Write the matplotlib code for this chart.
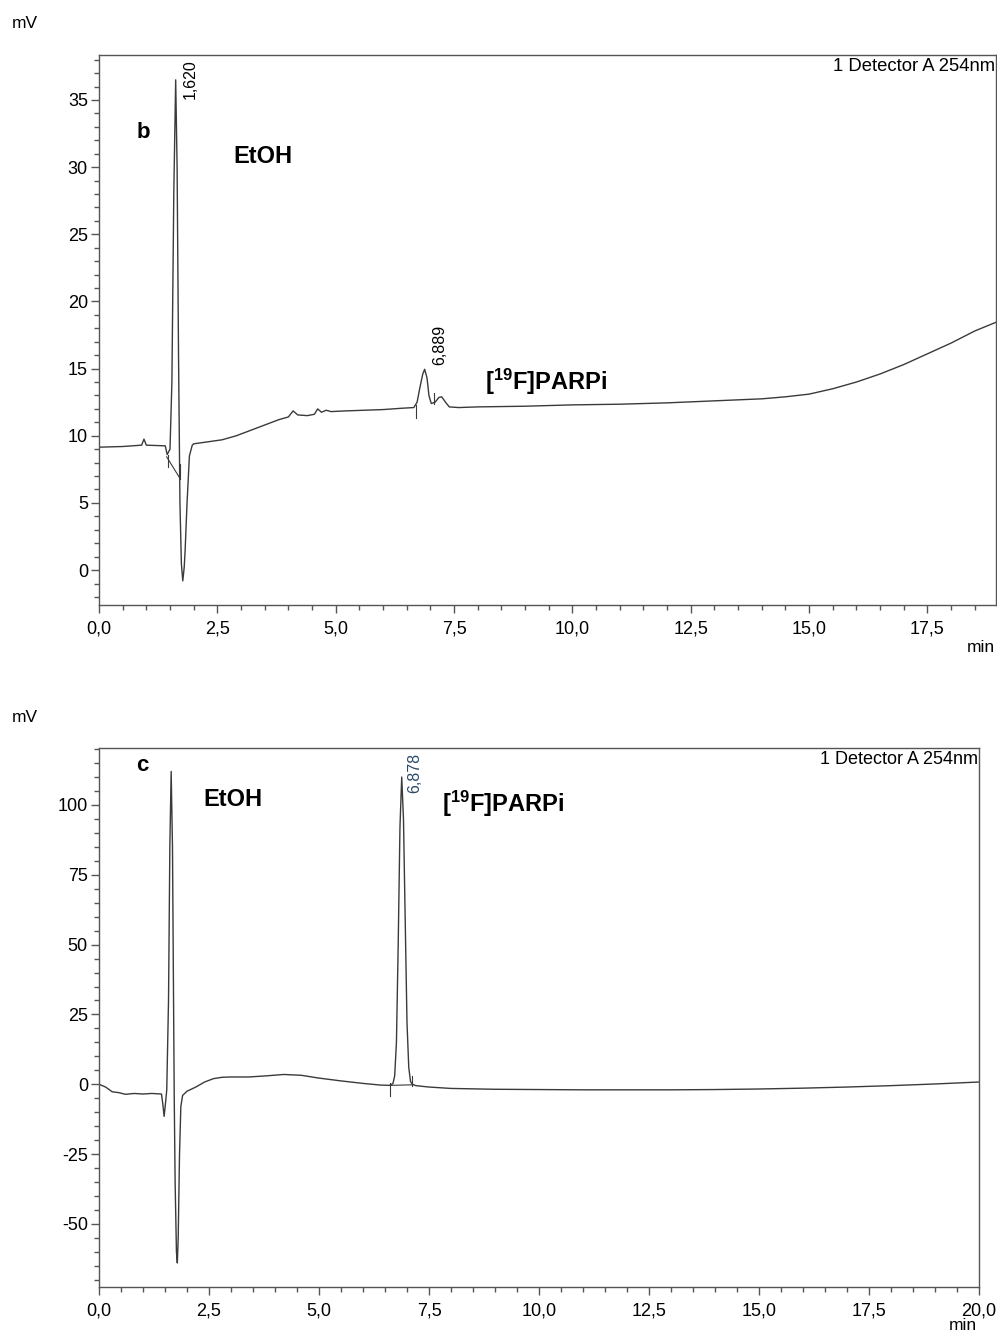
"""HPLC UV traces (254 nm) for the EtOH blank (b) and [19F]PARPi reference (c)."""

import matplotlib
matplotlib.use("Agg")
import matplotlib.pyplot as plt
from matplotlib.ticker import MultipleLocator, FuncFormatter

plt.rcParams["font.family"] = ["Liberation Sans", "DejaVu Sans"]
plt.rcParams["axes.unicode_minus"] = False
plt.rcParams["mathtext.fontset"] = "custom"
plt.rcParams["mathtext.bf"] = "Liberation Sans:bold"
plt.rcParams["mathtext.rm"] = "Liberation Sans"

# --- panel b: EtOH trace (time in min, signal in mV) ---
time_b = [0.0, 0.5, 0.9, 0.95, 1.0, 1.4, 1.44, 1.5, 1.54, 1.58, 1.62, 1.65,
          1.68, 1.71, 1.74, 1.77, 1.8, 1.82, 1.86, 1.91, 1.97, 2.0, 2.3, 2.6,
          2.9, 3.2, 3.5, 3.8, 4.0, 4.1, 4.2, 4.4, 4.55, 4.62, 4.7, 4.8, 4.9,
          5.2, 5.6, 6.0, 6.4, 6.65, 6.72, 6.78, 6.84, 6.88, 6.93, 6.97, 7.02,
          7.1, 7.18, 7.24, 7.32, 7.4, 7.6, 8.0, 9.0, 10.0, 11.0, 12.0, 13.0,
          14.0, 14.5, 15.0, 15.5, 16.0, 16.5, 17.0, 17.5, 18.0, 18.5, 18.95]
signal_b = [9.15, 9.2, 9.3, 9.75, 9.3, 9.25, 8.6, 9.0, 14.0, 28.0, 36.5, 30.0,
            16.0, 5.0, 0.5, -0.8, 0.2, 1.5, 5.0, 8.5, 9.3, 9.4, 9.55, 9.7,
            10.0, 10.4, 10.8, 11.2, 11.4, 11.85, 11.55, 11.5, 11.6, 12.0, 11.75,
            11.9, 11.8, 11.85, 11.9, 11.95, 12.05, 12.1, 12.5, 13.6, 14.6, 14.95,
            14.3, 13.0, 12.4, 12.5, 12.85, 12.9, 12.5, 12.15, 12.1, 12.15, 12.2,
            12.3, 12.35, 12.45, 12.6, 12.75, 12.9, 13.1, 13.5, 14.0, 14.6, 15.3,
            16.1, 16.9, 17.8, 18.45]

# integration marks of panel b: peak start / end (time, upper, lower mV)
marks_b = [(1.45, 8.6, 7.7), (1.71, 7.9, 6.8), (6.69, 12.3, 11.3), (7.07, 13.2, 12.4)]
baseline_b = ([1.43, 1.71], [8.43, 6.83])
# retention-time labels: (label time, label base mV, text, colour)
peaks_b = [(1.92, 35.1, "1,620", "black"), (7.19, 15.3, "6,889", "black")]

# --- panel c: [19F]PARPi trace ---
time_c = [0.0, 0.15, 0.3, 0.45, 0.6, 0.8, 1.0, 1.2, 1.42, 1.45, 1.48, 1.51,
          1.54, 1.58, 1.61, 1.64, 1.67, 1.69, 1.71, 1.73, 1.76, 1.78, 1.8,
          1.83, 1.86, 1.9, 2.0, 2.2, 2.4, 2.6, 2.8, 3.0, 3.4, 3.8, 4.2, 4.6,
          5.0, 5.5, 6.0, 6.4, 6.6, 6.68, 6.72, 6.76, 6.8, 6.84, 6.88, 6.92,
          6.96, 7.0, 7.04, 7.08, 7.12, 7.2, 7.5, 8.0, 9.0, 10.0, 11.0, 12.0,
          13.0, 14.0, 15.0, 16.0, 17.0, 18.0, 19.0, 20.0]
signal_c = [0.0, -1.0, -2.7, -3.0, -3.6, -3.3, -3.5, -3.3, -3.5, -7.0, -11.5,
            -7.0, -2.0, 30.0, 85.0, 112.0, 85.0, 40.0, -5.0, -35.0, -60.0, -64.0,
            -55.0, -25.0, -8.0, -4.0, -2.5, -1.0, 0.8, 2.0, 2.5, 2.6, 2.6, 3.0,
            3.5, 3.2, 2.2, 1.2, 0.3, -0.3, -0.4, 0.2, 3.0, 15.0, 50.0, 92.0,
            110.0, 95.0, 58.0, 22.0, 6.0, 1.0, 0.0, -0.5, -1.0, -1.5, -1.8,
            -1.9, -2.0, -2.0, -2.0, -1.9, -1.7, -1.4, -1.0, -0.5, 0.1, 0.8]

marks_c = [(6.62, 0.4, -4.3), (7.12, 2.9, -0.7)]
baseline_c = ([6.62, 7.12], [-0.4, -0.2])
peaks_c = [(7.18, 104.3, "6,878", "#2b4a6b")]

LINE = "#3a3a3a"
AXIS = "#555555"


def comma_fmt(decimals):
    return FuncFormatter(lambda v, _: f"{v:.{decimals}f}".replace(".", ","))


def style_axes(ax, xmax, ylim, ymajor, yminor):
    ax.set_xlim(0, xmax)
    ax.set_ylim(*ylim)
    ax.xaxis.set_major_locator(MultipleLocator(2.5))
    ax.xaxis.set_minor_locator(MultipleLocator(0.5))
    ax.yaxis.set_major_locator(MultipleLocator(ymajor))
    ax.yaxis.set_minor_locator(MultipleLocator(yminor))
    ax.xaxis.set_major_formatter(comma_fmt(1))
    ax.yaxis.set_major_formatter(comma_fmt(0))
    ax.tick_params(which="both", direction="out", colors=AXIS, labelcolor="black",
                   labelsize=13, top=False, right=False)
    ax.tick_params(which="major", length=6, width=1)
    ax.tick_params(which="minor", length=3.5, width=1)
    ax.tick_params(axis="x", pad=5)
    ax.tick_params(axis="y", pad=2)
    for sp in ax.spines.values():
        sp.set_color(AXIS)
        sp.set_linewidth(1)


def draw_marks(ax, marks, baseline):
    for t, top, bottom in marks:
        ax.plot([t, t], [top, bottom], color=LINE, lw=0.8)
    ax.plot(baseline[0], baseline[1], color=LINE, lw=0.8)


def label_peaks(ax, peaks):
    for t, v, txt, col in peaks:
        ax.text(t, v, txt, rotation=90, ha="center", va="bottom",
                fontsize=11.5, color=col)


fig = plt.figure(figsize=(9.97, 13.33), dpi=100)

ax_b = fig.add_axes([99 / 997, 1 - 605 / 1333, 897 / 997, 550 / 1333])
ax_b.plot(time_b, signal_b, color=LINE, lw=1.0)
draw_marks(ax_b, marks_b, baseline_b)
label_peaks(ax_b, peaks_b)
style_axes(ax_b, 18.95, (-2.6, 38.35), 5, 1)
ax_b.text(0.93, 32.6, "b", fontsize=16, fontweight="bold", ha="center", va="center")
ax_b.text(3.46, 30.8, "EtOH", fontsize=17, fontweight="bold", ha="center", va="center")
ax_b.text(8.15, 14.0, r"$\mathbf{[^{19}F]PARPi}$", fontsize=17, ha="left", va="center")
ax_b.text(0.999, 0.995, "1 Detector A 254nm", transform=ax_b.transAxes,
          ha="right", va="top", fontsize=13.3)

ax_c = fig.add_axes([99 / 997, 1 - 1287 / 1333, 880 / 997, 539 / 1333])
ax_c.plot(time_c, signal_c, color=LINE, lw=1.0)
draw_marks(ax_c, marks_c, baseline_c)
label_peaks(ax_c, peaks_c)
style_axes(ax_c, 20.0, (-72.6, 120.4), 25, 5)
ax_c.text(0.98, 114.0, "c", fontsize=16, fontweight="bold", ha="center", va="center")
ax_c.text(3.05, 101.8, "EtOH", fontsize=17, fontweight="bold", ha="center", va="center")
ax_c.text(7.8, 100.5, r"$\mathbf{[^{19}F]PARPi}$", fontsize=17, ha="left", va="center")
ax_c.text(0.999, 0.995, "1 Detector A 254nm", transform=ax_c.transAxes,
          ha="right", va="top", fontsize=13)

for ypix, xpix in [(24, 25), (718, 25)]:
    fig.text(xpix / 997, 1 - ypix / 1333, "mV", fontsize=12.5, ha="center", va="center")
fig.text(981 / 997, 1 - 647 / 1333, "min", fontsize=12.5, ha="center", va="center")
fig.text(963 / 997, 1 - 1326 / 1333, "min", fontsize=12.5, ha="center", va="center")

fig.savefig("out.png", dpi=100)
